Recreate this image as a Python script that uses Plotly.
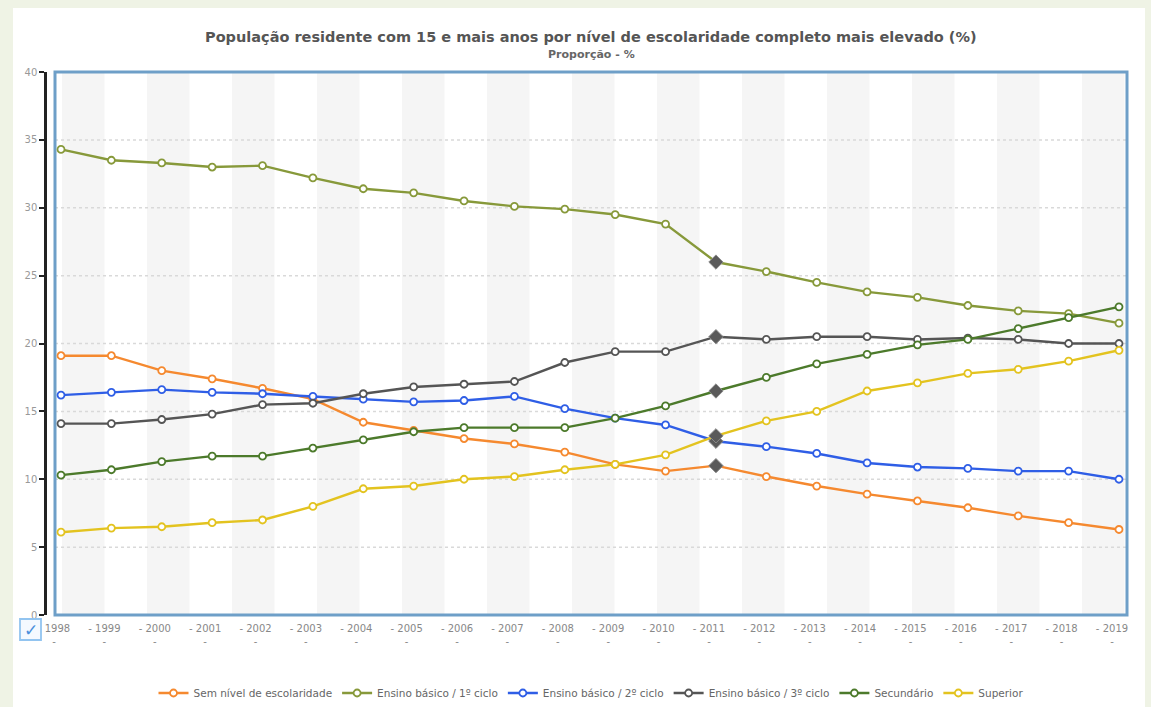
import plotly.graph_objects as go

# Years on the category axis
years = list(range(1998, 2020))

# Share of the resident population aged 15+ by highest completed education level (%)
sem_nivel = [19.1, 19.1, 18.0, 17.4, 16.7, 15.9, 14.2, 13.6, 13.0, 12.6, 12.0,
             11.1, 10.6, 11.0, 10.2, 9.5, 8.9, 8.4, 7.9, 7.3, 6.8, 6.3]
basico_1 = [34.3, 33.5, 33.3, 33.0, 33.1, 32.2, 31.4, 31.1, 30.5, 30.1, 29.9,
            29.5, 28.8, 26.0, 25.3, 24.5, 23.8, 23.4, 22.8, 22.4, 22.2, 21.5]
basico_2 = [16.2, 16.4, 16.6, 16.4, 16.3, 16.1, 15.9, 15.7, 15.8, 16.1, 15.2,
            14.5, 14.0, 12.8, 12.4, 11.9, 11.2, 10.9, 10.8, 10.6, 10.6, 10.0]
basico_3 = [14.1, 14.1, 14.4, 14.8, 15.5, 15.6, 16.3, 16.8, 17.0, 17.2, 18.6,
            19.4, 19.4, 20.5, 20.3, 20.5, 20.5, 20.3, 20.4, 20.3, 20.0, 20.0]
secundario = [10.3, 10.7, 11.3, 11.7, 11.7, 12.3, 12.9, 13.5, 13.8, 13.8, 13.8,
              14.5, 15.4, 16.5, 17.5, 18.5, 19.2, 19.9, 20.3, 21.1, 21.9, 22.7]
superior = [6.1, 6.4, 6.5, 6.8, 7.0, 8.0, 9.3, 9.5, 10.0, 10.2, 10.7,
            11.1, 11.8, 13.2, 14.3, 15.0, 16.5, 17.1, 17.8, 18.1, 18.7, 19.5]

series_names = ["Sem nível de escolaridade", "Ensino básico / 1º ciclo",
                "Ensino básico / 2º ciclo", "Ensino básico / 3º ciclo",
                "Secundário", "Superior"]
series_values = [sem_nivel, basico_1, basico_2, basico_3, secundario, superior]
series_colors = ["#f5892f", "#87993a", "#2f5ee6", "#555555", "#4c7a2b", "#e3c31f"]

highlight_year = 2011
tick_text = [f"- {y}<br>-" for y in years]

W, H = 1151, 707
ML, MR, MT, MB = 45, 24, 72, 92
plot_w = W - ML - MR
plot_h = H - MT - MB


def px_x(px):
    return (px - ML) / plot_w


def px_y(py):
    return (H - MB - py) / plot_h


fig = go.Figure()

for name, vals, color in zip(series_names, series_values, series_colors):
    fig.add_trace(go.Scatter(
        x=years, y=vals, name=name, mode="lines+markers",
        line=dict(color=color, width=2.4),
        marker=dict(symbol="circle", size=7, color="white",
                    line=dict(color=color, width=1.8)),
    ))

# Highlighted points for the selected year
hi = years.index(highlight_year)
fig.add_trace(go.Scatter(
    x=[highlight_year] * len(series_values),
    y=[vals[hi] for vals in series_values],
    mode="markers", showlegend=False, hoverinfo="skip",
    marker=dict(symbol="diamond", size=11, color="#5a5a5a",
                line=dict(color="#8a8a8a", width=1)),
))

shapes = []
# White card over the tinted page
shapes.append(dict(type="rect", xref="paper", yref="paper",
                   x0=px_x(13), x1=px_x(1145), y0=px_y(712), y1=px_y(8),
                   fillcolor="white", line=dict(width=0), layer="below"))

# Alternating vertical bands in the plot area
band_w = 42.5 / 1072
period = 85.0 / 1072
start = (62 - 55) / 1072 - period
k = 0
while start + k * period < 1:
    a = start + k * period
    b = a + band_w
    a, b = max(a, 0), min(b, 1)
    if b > a:
        shapes.append(dict(type="rect", xref="x domain", yref="y domain",
                           x0=a, x1=b, y0=0, y1=1, fillcolor="#f5f5f5",
                           line=dict(width=0), layer="below"))
    k += 1

# Dotted horizontal gridlines
for v in range(5, 40, 5):
    shapes.append(dict(type="line", xref="x domain", yref="y",
                       x0=0, x1=1, y0=v, y1=v,
                       line=dict(color="#d9d9d9", width=1.5, dash="dot"),
                       layer="below"))

# Blue frame around the plot area
shapes.append(dict(type="rect", xref="x domain", yref="y domain",
                   x0=0, x1=1, y0=0, y1=1,
                   line=dict(color="#6e9fc8", width=3), layer="below"))

# Check box below the axis corner
shapes.append(dict(type="rect", xref="paper", yref="paper",
                   x0=px_x(20), x1=px_x(41), y0=px_y(640), y1=px_y(619),
                   fillcolor="#f4f9ff", line=dict(color="#92c4f0", width=1.8)))

annotations = [
    dict(text="<b>População residente com 15 e mais anos por nível de escolaridade completo mais elevado (%)</b>",
         xref="x domain", yref="paper", x=0.5, y=px_y(37),
         xanchor="center", yanchor="middle", showarrow=False,
         font=dict(family="DejaVu Sans", size=14.5, color="#555555")),
    dict(text="<b>Proporção - %</b>",
         xref="x domain", yref="paper", x=0.5, y=px_y(55),
         xanchor="center", yanchor="middle", showarrow=False,
         font=dict(family="DejaVu Sans", size=11, color="#666666")),
    dict(text="✓", xref="paper", yref="paper", x=px_x(30.5), y=px_y(629.5),
         xanchor="center", yanchor="middle", showarrow=False,
         font=dict(family="DejaVu Sans", size=17, color="#4a8fdc")),
]

x_left, x_right = 1997.881, 2019.159

fig.update_layout(
    width=W, height=H,
    margin=dict(l=ML, r=MR, t=MT, b=MB, pad=0, autoexpand=False),
    paper_bgcolor="#eff3e5",
    plot_bgcolor="rgba(0,0,0,0)",
    font=dict(family="DejaVu Sans", size=10, color="#777777"),
    xaxis=dict(domain=[10 / plot_w, 1], range=[x_left, x_right],
               tickvals=years, ticktext=tick_text, ticks="",
               showgrid=False, zeroline=False, showline=False,
               ticklabelshift=-7, ticklabelstandoff=6,
               tickfont=dict(family="DejaVu Sans", size=10, color="#888888")),
    yaxis=dict(range=[0, 40], tickvals=list(range(0, 41, 5)),
               anchor="free", position=0,
               showgrid=False, zeroline=False,
               showline=True, linecolor="#222222", linewidth=2.5,
               ticks="outside", ticklen=5, tickwidth=2, tickcolor="#222222",
               tickfont=dict(family="DejaVu Sans", size=10, color="#999999")),
    legend=dict(orientation="h", x=px_x(591), xanchor="center",
                y=px_y(693), yanchor="middle",
                bgcolor="rgba(0,0,0,0)", itemwidth=30,
                font=dict(family="DejaVu Sans", size=10.5, color="#666666")),
    shapes=shapes,
    annotations=annotations,
    hovermode="x",
)

fig.write_html("out.html")
